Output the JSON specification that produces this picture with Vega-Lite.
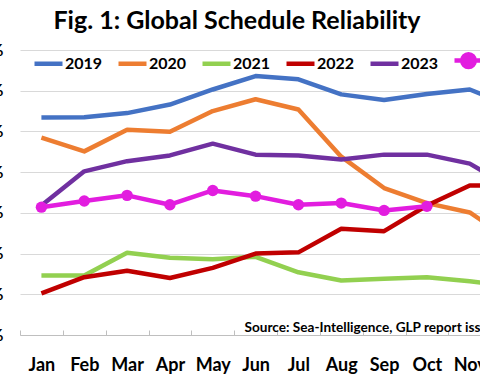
{
  "$schema": "https://vega.github.io/schema/vega-lite/v6.json",
  "width": 514,
  "height": 285,
  "autosize": {"type": "none"},
  "padding": {"left": 20, "top": 50, "right": -54, "bottom": 49},
  "background": "white",
  "title": {
    "text": "Fig. 1: Global Schedule Reliability",
    "font": "Lato",
    "fontSize": 25,
    "fontWeight": "bold",
    "color": "#000000",
    "anchor": "middle",
    "dx": -40,
    "offset": 7
  },
  "config": {
    "view": {"stroke": null},
    "font": "Lato"
  },
  "data": {
    "values": [
      {"month": "Jan", "year": "2019", "value": 73.4},
      {"month": "Feb", "year": "2019", "value": 73.5},
      {"month": "Mar", "year": "2019", "value": 74.5},
      {"month": "Apr", "year": "2019", "value": 76.6},
      {"month": "May", "year": "2019", "value": 80.3},
      {"month": "Jun", "year": "2019", "value": 83.6},
      {"month": "Jul", "year": "2019", "value": 82.8},
      {"month": "Aug", "year": "2019", "value": 79.1},
      {"month": "Sep", "year": "2019", "value": 77.7},
      {"month": "Oct", "year": "2019", "value": 79.2},
      {"month": "Nov", "year": "2019", "value": 80.3},
      {"month": "Dec", "year": "2019", "value": 76.0},
      {"month": "Jan", "year": "2020", "value": 68.5},
      {"month": "Feb", "year": "2020", "value": 65.1},
      {"month": "Mar", "year": "2020", "value": 70.4},
      {"month": "Apr", "year": "2020", "value": 69.9},
      {"month": "May", "year": "2020", "value": 75.0},
      {"month": "Jun", "year": "2020", "value": 77.9},
      {"month": "Jul", "year": "2020", "value": 75.4},
      {"month": "Aug", "year": "2020", "value": 63.8},
      {"month": "Sep", "year": "2020", "value": 56.1},
      {"month": "Oct", "year": "2020", "value": 52.4},
      {"month": "Nov", "year": "2020", "value": 50.1},
      {"month": "Dec", "year": "2020", "value": 43.0},
      {"month": "Jan", "year": "2021", "value": 34.6},
      {"month": "Feb", "year": "2021", "value": 34.6},
      {"month": "Mar", "year": "2021", "value": 40.2},
      {"month": "Apr", "year": "2021", "value": 39.0},
      {"month": "May", "year": "2021", "value": 38.6},
      {"month": "Jun", "year": "2021", "value": 39.2},
      {"month": "Jul", "year": "2021", "value": 35.4},
      {"month": "Aug", "year": "2021", "value": 33.4},
      {"month": "Sep", "year": "2021", "value": 33.8},
      {"month": "Oct", "year": "2021", "value": 34.2},
      {"month": "Nov", "year": "2021", "value": 33.2},
      {"month": "Dec", "year": "2021", "value": 32.0},
      {"month": "Jan", "year": "2022", "value": 30.2},
      {"month": "Feb", "year": "2022", "value": 34.2},
      {"month": "Mar", "year": "2022", "value": 35.8},
      {"month": "Apr", "year": "2022", "value": 34.0},
      {"month": "May", "year": "2022", "value": 36.5},
      {"month": "Jun", "year": "2022", "value": 40.0},
      {"month": "Jul", "year": "2022", "value": 40.3},
      {"month": "Aug", "year": "2022", "value": 46.1},
      {"month": "Sep", "year": "2022", "value": 45.5},
      {"month": "Oct", "year": "2022", "value": 51.8},
      {"month": "Nov", "year": "2022", "value": 56.7},
      {"month": "Dec", "year": "2022", "value": 56.7},
      {"month": "Jan", "year": "2023", "value": 51.8},
      {"month": "Feb", "year": "2023", "value": 60.2},
      {"month": "Mar", "year": "2023", "value": 62.7},
      {"month": "Apr", "year": "2023", "value": 64.1},
      {"month": "May", "year": "2023", "value": 67.0},
      {"month": "Jun", "year": "2023", "value": 64.3},
      {"month": "Jul", "year": "2023", "value": 64.1},
      {"month": "Aug", "year": "2023", "value": 63.1},
      {"month": "Sep", "year": "2023", "value": 64.3},
      {"month": "Oct", "year": "2023", "value": 64.3},
      {"month": "Nov", "year": "2023", "value": 62.1},
      {"month": "Dec", "year": "2023", "value": 56.0},
      {"month": "Jan", "year": "2024", "value": 51.4},
      {"month": "Feb", "year": "2024", "value": 52.9},
      {"month": "Mar", "year": "2024", "value": 54.3},
      {"month": "Apr", "year": "2024", "value": 52.0},
      {"month": "May", "year": "2024", "value": 55.5},
      {"month": "Jun", "year": "2024", "value": 54.1},
      {"month": "Jul", "year": "2024", "value": 52.0},
      {"month": "Aug", "year": "2024", "value": 52.4},
      {"month": "Sep", "year": "2024", "value": 50.6},
      {"month": "Oct", "year": "2024", "value": 51.6}
    ]
  },
  "encoding": {
    "x": {
      "field": "month",
      "type": "nominal",
      "sort": ["Jan","Feb","Mar","Apr","May","Jun","Jul","Aug","Sep","Oct","Nov","Dec"],
      "scale": {"domain": ["Jan","Feb","Mar","Apr","May","Jun","Jul","Aug","Sep","Oct","Nov","Dec"], "paddingInner": 0, "paddingOuter": 0},
      "axis": {
        "title": null,
        "labelAngle": 0,
        "labelFont": "Lato",
        "labelFontSize": 18,
        "labelFontWeight": "bold",
        "labelColor": "#000000",
        "labelPadding": 26,
        "tickBand": "extent",
        "tickSize": -5,
        "tickColor": "#bfbfbf",
        "domainColor": "#bfbfbf",
        "grid": false
      }
    },
    "y": {
      "field": "value",
      "type": "quantitative",
      "scale": {"domain": [20, 90], "nice": false, "zero": false},
      "axis": {
        "title": null,
        "values": [20, 30, 40, 50, 60, 70, 80, 90],
        "labelExpr": "datum.value + '%'",
        "labelFont": "Lato",
        "labelFontSize": 17,
        "labelFontWeight": "bold",
        "labelColor": "#000000",
        "labelPadding": 17,
        "ticks": false,
        "tickSize": 0,
        "domain": false,
        "grid": true,
        "gridColor": "#d9d9d9",
        "gridWidth": 1
      }
    }
  },
  "layer": [
    {
      "mark": {"type": "line", "strokeWidth": 4.5, "strokeJoin": "round"},
      "encoding": {
        "color": {
          "field": "year",
          "type": "nominal",
          "scale": {
            "domain": ["2019", "2020", "2021", "2022", "2023", "2024"],
            "range": ["#4472C4", "#ED7D31", "#92D050", "#C00000", "#7030A0", "#E21DDF"]
          },
          "legend": {
            "orient": "none",
            "legendX": 12,
            "legendY": -6,
            "direction": "horizontal",
            "title": null,
            "padding": 0,
            "symbolType": "stroke",
            "symbolSize": 784,
            "symbolStrokeWidth": 4.5,
            "labelFont": "Lato",
            "labelFontSize": 16,
            "labelFontWeight": "bold",
            "labelColor": "#000000",
            "labelOffset": 0,
            "columnPadding": 6,
            "encode": {
              "symbols": {
                "update": {
                  "shape": {"signal": "datum.value == '2024' ? 'M-1,0H1M0.45,0A0.45,0.45,0,1,1,-0.45,0A0.45,0.45,0,1,1,0.45,0Z' : 'stroke'"},
                  "fill": {"signal": "datum.value == '2024' ? '#E21DDF' : 'transparent'"}
                }
              }
            }
          }
        }
      }
    },
    {
      "transform": [{"filter": "datum.year == '2024'"}],
      "mark": {"type": "point", "filled": true, "size": 130, "opacity": 1, "color": "#E21DDF"}
    },
    {
      "data": {"values": [{"month": "Jun", "value": 21.8, "label": "Source: Sea-Intelligence, GLP report issue"}]},
      "mark": {"type": "text", "align": "left", "baseline": "middle", "dx": -11, "font": "Lato", "fontSize": 13.6, "fontWeight": "bold", "color": "#000000"},
      "encoding": {"text": {"field": "label"}}
    }
  ]
}
